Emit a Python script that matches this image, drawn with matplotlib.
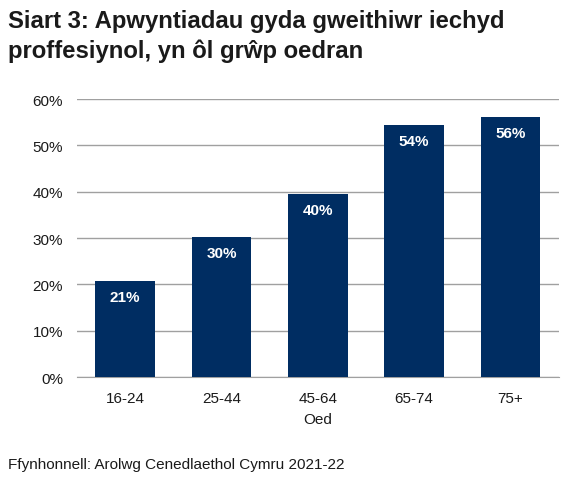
import matplotlib.pyplot as plt
from matplotlib.ticker import PercentFormatter

plt.rcParams['font.family'] = ['Liberation Sans', 'DejaVu Sans']

# data
age_groups = ['16-24', '25-44', '45-64', '65-74', '75+']
percent = [20.7, 30.2, 39.5, 54.4, 56.1]
labels = ['21%', '30%', '40%', '54%', '56%']

bar_colour = '#002D62'
grid_colour = '#A0A0A0'
text_colour = '#1A1A1A'

fig = plt.figure(figsize=(5.68, 4.81), dpi=100)
ax = fig.add_axes([0.1356, 0.2141, 0.848, 0.5779])

bars = ax.bar(range(len(age_groups)), percent, width=0.62, color=bar_colour, zorder=3)

# value labels inside the top of each bar
for b, lab in zip(bars, labels):
    ax.annotate(lab, (b.get_x() + b.get_width() / 2, b.get_height()),
                xytext=(0, -11.5), textcoords='offset points',
                ha='center', va='center', color='white',
                fontsize=11, fontweight='bold')

ax.set_xlim(-0.5, len(age_groups) - 0.5)
ax.set_ylim(0, 60)
ax.set_yticks(range(0, 61, 10))
ax.yaxis.set_major_formatter(PercentFormatter(decimals=0))
ax.set_xticks(range(len(age_groups)))
ax.set_xticklabels(age_groups)
ax.tick_params(axis='both', length=0, labelsize=11, colors=text_colour)
ax.tick_params(axis='x', pad=10)
ax.tick_params(axis='y', pad=10)
ax.grid(axis='y', color=grid_colour, linewidth=1, zorder=0)
for s in ['top', 'right', 'left']:
    ax.spines[s].set_visible(False)
ax.spines['bottom'].set_color(grid_colour)
ax.set_xlabel('Oed', fontsize=11, color=text_colour, labelpad=5)

fig.text(0.014, 0.98, 'Siart 3: Apwyntiadau gyda gweithiwr iechyd\nproffesiynol, yn ôl grŵp oedran',
         ha='left', va='top', fontsize=17.2, fontweight='bold', color=text_colour, linespacing=1.35)
fig.text(0.014, 0.033, 'Ffynhonnell: Arolwg Cenedlaethol Cymru 2021-22',
         ha='left', va='center', fontsize=11, color=text_colour)

fig.savefig('out.png', dpi=100)
